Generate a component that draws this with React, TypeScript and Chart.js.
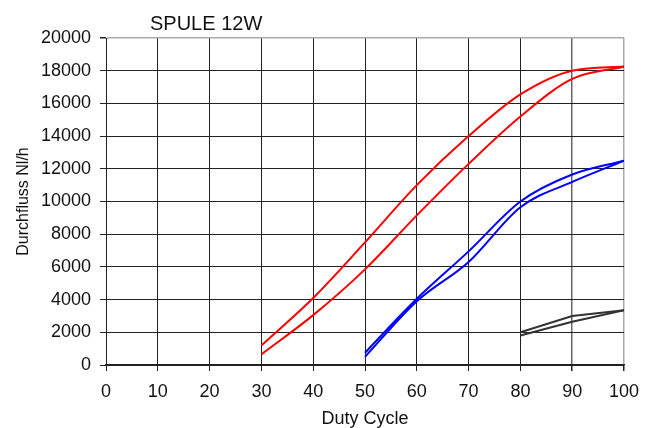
import React, { useEffect, useRef } from "react";
import { Chart, registerables } from "chart.js";

Chart.register(...registerables);

const TITLE = "SPULE 12W";
const X_TITLE = "Duty Cycle";
const Y_TITLE = "Durchfluss Nl/h";

const dutyRed = [30, 40, 50, 60, 70, 80, 90, 100];
const redUpper = [1200, 4100, 7500, 11000, 14000, 16550, 18000, 18250];
const redLower = [650, 3050, 5850, 9150, 12300, 15200, 17500, 18250];

const dutyBlue = [50, 60, 70, 80, 90, 100];
const blueUpper = [750, 4050, 6950, 10000, 11650, 12500];
const blueLower = [500, 3900, 6300, 9650, 11200, 12500];

const dutyBlack = [80, 90, 100];
const blackUpper = [2000, 3000, 3350];
const blackLower = [1800, 2650, 3350];

const FONT = "'Liberation Sans', Arial, sans-serif";

const pts = (xs: number[], ys: number[]) => xs.map((x, i) => ({ x, y: ys[i] }));

const titlePlugin = {
  id: "leftTitle",
  afterDraw(chart: any) {
    const { ctx, chartArea } = chart;
    ctx.save();
    ctx.font = `20px ${FONT}`;
    ctx.fillStyle = "#111";
    ctx.textAlign = "left";
    ctx.textBaseline = "alphabetic";
    ctx.fillText(TITLE, chartArea.left + 44, chartArea.top - 8);
    ctx.restore();
  },
};

export default function App() {
  const ref = useRef<HTMLCanvasElement | null>(null);
  useEffect(() => {
    if (!ref.current) return;
    const line = (data: any, color: string, tension: number) => ({
      data,
      borderColor: color,
      backgroundColor: color,
      borderWidth: 2,
      pointRadius: 0,
      fill: false,
      tension,
      cubicInterpolationMode: tension > 0 ? ("monotone" as const) : ("default" as const),
    });
    const chart = new Chart(ref.current, {
      type: "line",
      data: {
        datasets: [
          line(pts(dutyRed, redUpper), "#ff0000", 0.4),
          line(pts(dutyRed, redLower), "#ff0000", 0.4),
          line(pts(dutyBlue, blueUpper), "#0000ff", 0.4),
          line(pts(dutyBlue, blueLower), "#0000ff", 0.4),
          line(pts(dutyBlack, blackUpper), "#333333", 0),
          line(pts(dutyBlack, blackLower), "#333333", 0),
        ],
      },
      options: {
        animation: false,
        responsive: false,
        devicePixelRatio: 1,
        layout: { padding: { top: 38, right: 30, left: 0, bottom: 0 } },
        plugins: { legend: { display: false }, tooltip: { enabled: false }, title: { display: false } },
        scales: {
          x: {
            type: "linear",
            min: 0,
            max: 100,
            afterFit: (s: any) => {
              s.height = 63;
            },
            ticks: {
              stepSize: 10,
              padding: 10,
              color: "#111",
              font: { family: FONT, size: 18 },
              maxRotation: 0,
            },
            grid: {
              color: (c: any) => (c.tick && c.tick.value === 100 ? "#aaaaaa" : c.tick && c.tick.value === 90 ? "#666666" : "#222222"),
              lineWidth: (c: any) => (c.tick && (c.tick.value === 100 || c.tick.value === 90) ? 1.5 : 1),
              tickLength: 6,
              tickColor: "#222222",
            },
            border: { color: "#222222", width: 1.5 },
            title: {
              display: true,
              text: X_TITLE,
              color: "#111",
              font: { family: FONT, size: 18, lineHeight: 1 },
              padding: { top: 0, bottom: 0 },
            },
          },
          y: {
            type: "linear",
            min: 0,
            max: 20000,
            afterFit: (s: any) => {
              s.width = 106;
            },
            ticks: {
              stepSize: 2000,
              padding: 9,
              color: "#111",
              font: { family: FONT, size: 18 },
              callback: (v: any) => String(v),
            },
            grid: {
              color: (c: any) => (c.tick && c.tick.value === 20000 ? "#aaaaaa" : "#222222"),
              lineWidth: (c: any) => (c.tick && c.tick.value === 20000 ? 1.5 : 1),
              tickLength: 6,
              tickColor: "#222222",
            },
            border: { color: "#222222", width: 1 },
            title: {
              display: true,
              text: Y_TITLE,
              color: "#111",
              font: { family: FONT, size: 16 },
              padding: { top: 14, bottom: 0 },
            },
          },
        },
      },
      plugins: [titlePlugin],
    });
    return () => chart.destroy();
  }, []);
  return (
    <div style={{ position: "fixed", left: 0, top: 0, width: 654, height: 428, background: "#fff" }}>
      <canvas ref={ref} width={654} height={428} />
    </div>
  );
}
